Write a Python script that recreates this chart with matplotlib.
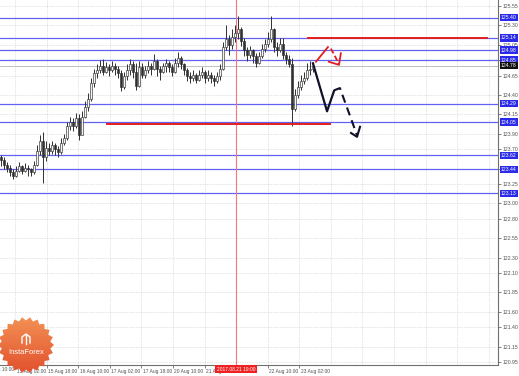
import numpy as np
import matplotlib
matplotlib.use("Agg")
import matplotlib.pyplot as plt
import matplotlib.transforms as mtransforms
from matplotlib.patches import Polygon

plt.rcParams["font.family"] = ["Liberation Sans", "DejaVu Sans"]

W, H = 519, 376

# hourly candles (open = previous close)
first_open = 123.60
close = [123.56, 123.50, 123.46, 123.40, 123.36, 123.42, 123.48, 123.42, 123.46, 123.44,
         123.40, 123.50, 123.68, 123.80, 123.60, 123.72, 123.68, 123.75, 123.70, 123.66,
         123.78, 123.85, 124.00, 124.05, 124.00, 124.10, 123.88, 124.12, 124.25, 124.35,
         124.55, 124.68, 124.72, 124.78, 124.70, 124.76, 124.72, 124.78, 124.74, 124.68,
         124.50, 124.64, 124.72, 124.80, 124.70, 124.52, 124.76, 124.66, 124.72, 124.78,
         124.74, 124.84, 124.74, 124.70, 124.78, 124.82, 124.76, 124.70, 124.82, 124.88,
         124.80, 124.72, 124.64, 124.62, 124.66, 124.60, 124.66, 124.70, 124.62, 124.66,
         124.62, 124.58, 124.64, 124.74, 125.02, 125.12, 125.05, 125.15, 125.20, 125.25,
         125.10, 124.98, 124.92, 124.98, 124.90, 124.82, 124.90, 125.00, 125.06, 125.12,
         125.25, 125.02, 124.98, 125.06, 124.92, 124.86, 124.80, 124.22, 124.40, 124.50,
         124.58, 124.62, 124.72, 124.74, 124.78]
high = [123.62, 123.60, 123.54, 123.50, 123.44, 123.48, 123.54, 123.50, 123.52, 123.50,
        123.46, 123.55, 123.75, 123.88, 123.92, 123.80, 123.78, 123.80, 123.78, 123.74,
        123.84, 123.90, 124.05, 124.12, 124.10, 124.17, 124.15, 124.20, 124.32, 124.42,
        124.62, 124.74, 124.80, 124.85, 124.86, 124.83, 124.80, 124.84, 124.82, 124.78,
        124.72, 124.70, 124.80, 124.86, 124.84, 124.82, 124.84, 124.82, 124.78, 124.84,
        124.82, 124.93, 124.86, 124.78, 124.82, 124.87, 124.84, 124.80, 124.88, 124.95,
        124.90, 124.82, 124.75, 124.70, 124.72, 124.68, 124.72, 124.76, 124.72, 124.72,
        124.70, 124.66, 124.70, 124.80, 125.08, 125.30, 125.18, 125.25, 125.30, 125.42,
        125.28, 125.14, 125.02, 125.04, 125.00, 124.94, 124.96, 125.06, 125.12, 125.22,
        125.42, 125.26, 125.08, 125.14, 125.14, 124.96, 124.92, 124.88, 124.48, 124.58,
        124.66, 124.70, 124.82, 124.84, 124.82]
low = [123.48, 123.44, 123.40, 123.36, 123.32, 123.34, 123.40, 123.38, 123.40, 123.36,
       123.35, 123.38, 123.48, 123.62, 123.26, 123.55, 123.62, 123.64, 123.63, 123.60,
       123.64, 123.75, 123.82, 123.95, 123.94, 123.98, 123.82, 123.88, 124.10, 124.20,
       124.32, 124.50, 124.62, 124.68, 124.66, 124.68, 124.64, 124.70, 124.66, 124.62,
       124.45, 124.48, 124.60, 124.66, 124.62, 124.46, 124.50, 124.62, 124.62, 124.68,
       124.66, 124.72, 124.64, 124.60, 124.68, 124.70, 124.70, 124.64, 124.68, 124.76,
       124.74, 124.66, 124.58, 124.56, 124.58, 124.56, 124.58, 124.62, 124.56, 124.58,
       124.55, 124.52, 124.56, 124.60, 124.72, 124.98, 124.92, 125.00, 125.08, 125.12,
       125.04, 124.90, 124.84, 124.88, 124.82, 124.76, 124.80, 124.88, 124.96, 125.02,
       125.08, 124.96, 124.90, 124.96, 124.86, 124.80, 124.76, 124.00, 124.20, 124.36,
       124.46, 124.54, 124.60, 124.66, 124.70]

# horizontal levels (blue) and current bid
levels = [125.40, 125.14, 124.98, 124.85, 124.29, 124.05, 123.62, 123.44, 123.13]
bid = 124.78

# price scale
ytick_vals = [120.95, 121.15, 121.40, 121.60, 121.85, 122.10, 122.30, 122.55, 122.80,
              123.00, 123.25, 123.45, 123.70, 123.90, 124.15, 124.40, 124.65, 124.85,
              125.05, 125.30, 125.55]
xtick_labels = ["15 Aug 02:00", "15 Aug 18:00", "16 Aug 10:00", "17 Aug 02:00",
                "17 Aug 18:00", "20 Aug 10:00", "21 Aug 02:00", "", "22 Aug 10:00",
                "23 Aug 02:00"]
vline_label = "2017.08.21 19:00"

# analyst drawings (bar index, price)
red_hi = ([102.3, 162.0], [125.14, 125.14])
red_lo = ([35.3, 109.7], [124.03, 124.03])
red_up = ([105.0, 109.0], [124.83, 125.02])
red_dn = ([110.0, 112.7], [125.00, 124.80])
red_head = ([109.3, 112.7, 113.3], [124.83, 124.79, 124.94])
blk_solid = ([104.0, 108.7, 111.0], [124.81, 124.19, 124.45])
blk_dash = ([111.0, 113.0, 118.7], [124.46, 124.49, 123.88])
blk_head = ([116.7, 118.7, 119.7], [123.91, 123.86, 123.99])

n = len(close)
x = np.arange(n)
opn = [first_open] + close[:-1]

fig = plt.figure(figsize=(W / 100, H / 100), dpi=100)
ax = fig.add_axes([0, 1 - 365 / H, 498 / W, 365 / H])

ax.set_xlim(-1 / 3, 165.7)
ax.set_ylim(120.912, 125.628)

# grid
grid_x = 4.67 + 10.53 * np.arange(16)
for g in grid_x:
    ax.axvline(g, color="#c8c8c8", lw=0.5, ls=(0, (1, 1.5)), zorder=0)
for v in ytick_vals:
    ax.axhline(v, color="#c8c8c8", lw=0.5, ls=(0, (1, 1.5)), zorder=0)

# levels
for lv in levels:
    ax.axhline(lv, color="#6262f0", lw=0.9, zorder=1)
ax.axhline(bid, color="#b4b4b4", lw=0.6, zorder=1)

# vertical marker
ax.axvline(grid_x[7], color="#f07878", lw=0.8, zorder=1)

# candles
for i in range(n):
    o, c = opn[i], close[i]
    lo, hi = min(low[i], o, c), max(high[i], o, c)
    ax.vlines(x[i], lo, hi, color="#303030", lw=0.7, zorder=2)
    up = c >= o
    ax.bar(x[i], max(abs(c - o), 0.008), bottom=min(o, c), width=0.72,
           color="#f4f4f4" if up else "#303030", edgecolor="#303030", lw=0.45, zorder=3)

# red drawings
ax.plot(*red_hi, color="#e41e1e", lw=1.4, zorder=4)
ax.plot(*red_lo, color="#e41e1e", lw=1.4, zorder=4)
ax.plot(*red_up, color="#e41e1e", lw=1.3, zorder=4)
ax.plot(*red_dn, color="#e41e1e", lw=1.3, ls=(0, (3, 1.5)), zorder=4)
ax.plot(*red_head, color="#e41e1e", lw=1.3, zorder=4)

# black drawings
ax.plot(*blk_solid, color="#10102a", lw=1.6, zorder=4)
ax.plot(*blk_dash, color="#10102a", lw=1.5, ls=(0, (4, 2.5)), zorder=4)
ax.plot(*blk_head, color="#10102a", lw=1.5, zorder=4)

# axes styling
for s in ["top", "left"]:
    ax.spines[s].set_visible(False)
for s in ["right", "bottom"]:
    ax.spines[s].set_color("#707070")
    ax.spines[s].set_linewidth(0.8)

ax.yaxis.tick_right()
ax.set_yticks(ytick_vals)
ax.set_yticklabels(["%.2f" % v for v in ytick_vals])
ax.tick_params(axis="y", length=2, width=0.5, pad=1, labelsize=3.7,
               colors="#505050")

ax.set_xticks(grid_x[:10])
ax.set_xticklabels(xtick_labels)
ax.tick_params(axis="x", length=2, width=0.5, pad=0.8, labelsize=3.5,
               colors="#505050")
shift = mtransforms.ScaledTranslation(1.5 / 100, 0, fig.dpi_scale_trans)
for lbl in ax.get_xticklabels():
    lbl.set_ha("left")
    lbl.set_transform(lbl.get_transform() + shift)

bx = mtransforms.blended_transform_factory(ax.transData, ax.transAxes)
ax.text(grid_x[0] - 10.53 + 0.5, -0.006, "14 Aug 10:00", transform=bx, ha="left",
        va="top", fontsize=3.5, color="#505050", clip_on=False)
ax.text(grid_x[7], -0.005, vline_label, transform=bx, ha="center", va="top",
        fontsize=3.5, color="white", zorder=6,
        bbox=dict(boxstyle="square,pad=0.3", fc="#ee2222", ec="none"))

# price boxes
by = mtransforms.blended_transform_factory(ax.transAxes, ax.transData)
for lv in levels:
    ax.text(1.006, lv, "%.2f" % lv, transform=by, ha="left", va="center",
            fontsize=3.7, color="white", zorder=6,
            bbox=dict(boxstyle="square,pad=0.25", fc="#2a2ae8", ec="none"))
ax.text(1.006, bid, "%.2f" % bid, transform=by, ha="left", va="center",
        fontsize=3.7, color="white", zorder=6,
        bbox=dict(boxstyle="square,pad=0.25", fc="#101010", ec="none"))

# logo overlay in pixel units
lax = fig.add_axes([0, 0, 1, 1], zorder=10)
lax.axis("off")
cx, cy, spikes = 26, 345, 22
ang = np.linspace(0, 2 * np.pi, 2 * spikes, endpoint=False)
rad = np.where(np.arange(2 * spikes) % 2 == 0, 28, 24.5)
star = Polygon(np.column_stack([cx + rad * np.cos(ang), cy + rad * np.sin(ang)]),
               closed=True, fc="none", ec="none")
lax.add_patch(star)
grad = np.linspace(0, 1, 64)[:, None]
cmap = matplotlib.colors.LinearSegmentedColormap.from_list("logo", ["#f39255", "#e2502c"])
im = lax.imshow(grad, cmap=cmap, extent=(cx - 29, cx + 29, cy + 29, cy - 29),
                aspect="auto", zorder=1)
im.set_clip_path(star)
lax.set_xlim(0, W)
lax.set_ylim(H, 0)
lax.plot([22, 22, 26, 30, 30], [343, 337, 334, 337, 343], color="white", lw=1.0, zorder=2)
lax.plot([26, 26], [335, 344], color="white", lw=1.0, zorder=2)
lax.text(cx, 353, "InstaForex", color="white", fontsize=5.4, ha="center",
         va="center", zorder=3)

fig.savefig("out.png", dpi=100)
